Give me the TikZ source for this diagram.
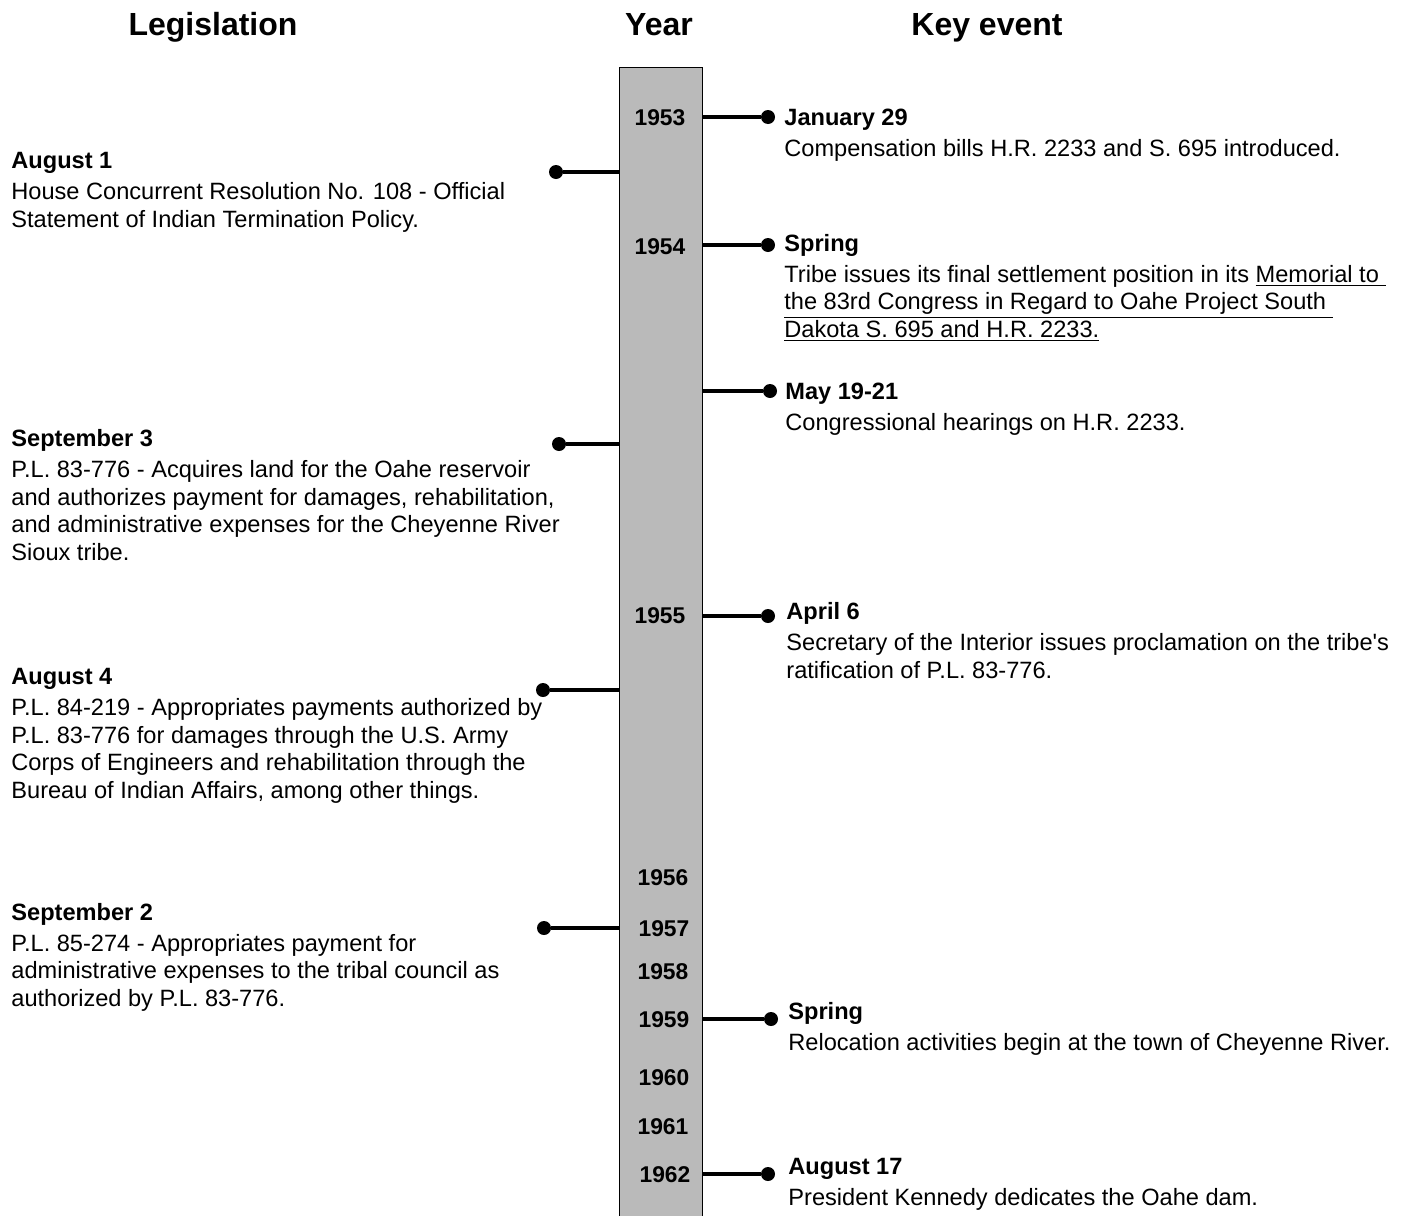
\documentclass[tikz,border=0pt]{standalone}
\usepackage{fontspec}
\setmainfont{Liberation Sans}
\usetikzlibrary{positioning}

\begin{document}
\begin{tikzpicture}[x=0.5pt,y=-0.5pt,
    head/.style={font=\bfseries\fontsize{16}{19}\selectfont, anchor=base, inner sep=0pt},
    year/.style={font=\bfseries\fontsize{11.4}{13.75}\selectfont, anchor=base, inner sep=0pt},
    entry/.style={font=\fontsize{11.8}{13.75}\selectfont, align=left, anchor=base west, inner sep=0pt},
    dot/.style={circle, fill=black, inner sep=0pt, minimum size=7pt},
    link/.style={line width=1.6pt}]
    \useasboundingbox (0,0) rectangle (1405,1216);
    % column titles
    \node [head] (tleg) at (213,35) {Legislation};
    \node [head] (tyear) at (659,35) {Year};
    \node [head] (tkey) at (987,35) {Key event};
    % the year bar
    \node [draw, line width=0.6pt, fill=black!27, anchor=north west, inner sep=0pt,
           minimum width=41.5pt, minimum height=585pt] (bar) at (619,67) {};
    \node [year] (y1953) at (660,125) {1953};
    \node [year] (y1954) at (660,254) {1954};
    \node [year] (y1955) at (660,623) {1955};
    \node [year] (y1956) at (663,885) {1956};
    \node [year] (y1957) at (664,936) {1957};
    \node [year] (y1958) at (663,979) {1958};
    \node [year] (y1959) at (664,1027) {1959};
    \node [year] (y1960) at (664,1085) {1960};
    \node [year] (y1961) at (663,1134) {1961};
    \node [year] (y1962) at (665,1182) {1962};
    % legislation side (entries anchored on their last line)
    \node [dot] (l1) at (556,172) {};
    \node [dot] (l2) at (559,444) {};
    \node [dot] (l3) at (543,690) {};
    \node [dot] (l4) at (544,928) {};
    \draw [link] (l1) -- (l1 -| bar.west);
    \draw [link] (l2) -- (l2 -| bar.west);
    \draw [link] (l3) -- (l3 -| bar.west);
    \draw [link] (l4) -- (l4 -| bar.west);
    \node [entry] (aug1) at (11,227) {\textbf{August 1}\\[1.75pt]
        House Concurrent Resolution No. 108 - Official\\
        Statement of Indian Termination Policy.};
    \node [entry] (sep3) at (11,560) {\textbf{September 3}\\[1.75pt]
        P.L. 83-776 - Acquires land for the Oahe reservoir\\
        and authorizes payment for damages, rehabilitation,\\
        and administrative expenses for the Cheyenne River\\
        Sioux tribe.};
    \node [entry] (aug4) at (11,798) {\textbf{August 4}\\[1.75pt]
        P.L. 84-219 - Appropriates payments authorized by\\
        P.L. 83-776 for damages through the U.S. Army\\
        Corps of Engineers and rehabilitation through the\\
        Bureau of Indian Affairs, among other things.};
    \node [entry] (sep2) at (11,1006) {\textbf{September 2}\\[1.75pt]
        P.L. 85-274 - Appropriates payment for\\
        administrative expenses to the tribal council as\\
        authorized by P.L. 83-776.};
    % key event side
    \node [dot] (r1) at (768,117) {};
    \node [dot] (r2) at (768,245) {};
    \node [dot] (r3) at (770,391) {};
    \node [dot] (r4) at (768,616) {};
    \node [dot] (r5) at (771,1019) {};
    \node [dot] (r6) at (768,1174) {};
    \draw [link] (r1 -| bar.east) -- (r1);
    \draw [link] (r2 -| bar.east) -- (r2);
    \draw [link] (r3 -| bar.east) -- (r3);
    \draw [link] (r4 -| bar.east) -- (r4);
    \draw [link] (r5 -| bar.east) -- (r5);
    \draw [link] (r6 -| bar.east) -- (r6);
    \node [entry] (jan29) at (784,156) {\textbf{January 29}\\[1.75pt]
        Compensation bills H.R. 2233 and S. 695 introduced.};
    \node [entry] (spr54) at (784,337) {\textbf{Spring}\\[1.75pt]
        Tribe issues its final settlement position in its \underline{Memorial to\ }\\
        \underline{the 83rd Congress in Regard to Oahe Project South\ }\\
        \underline{Dakota S. 695 and H.R. 2233.}};
    \node [entry] (may19) at (785,430) {\textbf{May 19-21}\\[1.75pt]
        Congressional hearings on H.R. 2233.};
    \node [entry] (apr6) at (786,678) {\textbf{April 6}\\[1.75pt]
        Secretary of the Interior issues proclamation on the tribe\textquotesingle s\\
        ratification of P.L. 83-776.};
    \node [entry] (spr59) at (788,1050) {\textbf{Spring}\\[1.75pt]
        Relocation activities begin at the town of Cheyenne River.};
    \node [entry] (aug17) at (788,1205) {\textbf{August 17}\\[1.75pt]
        President Kennedy dedicates the Oahe dam.};
\end{tikzpicture}
\end{document}
